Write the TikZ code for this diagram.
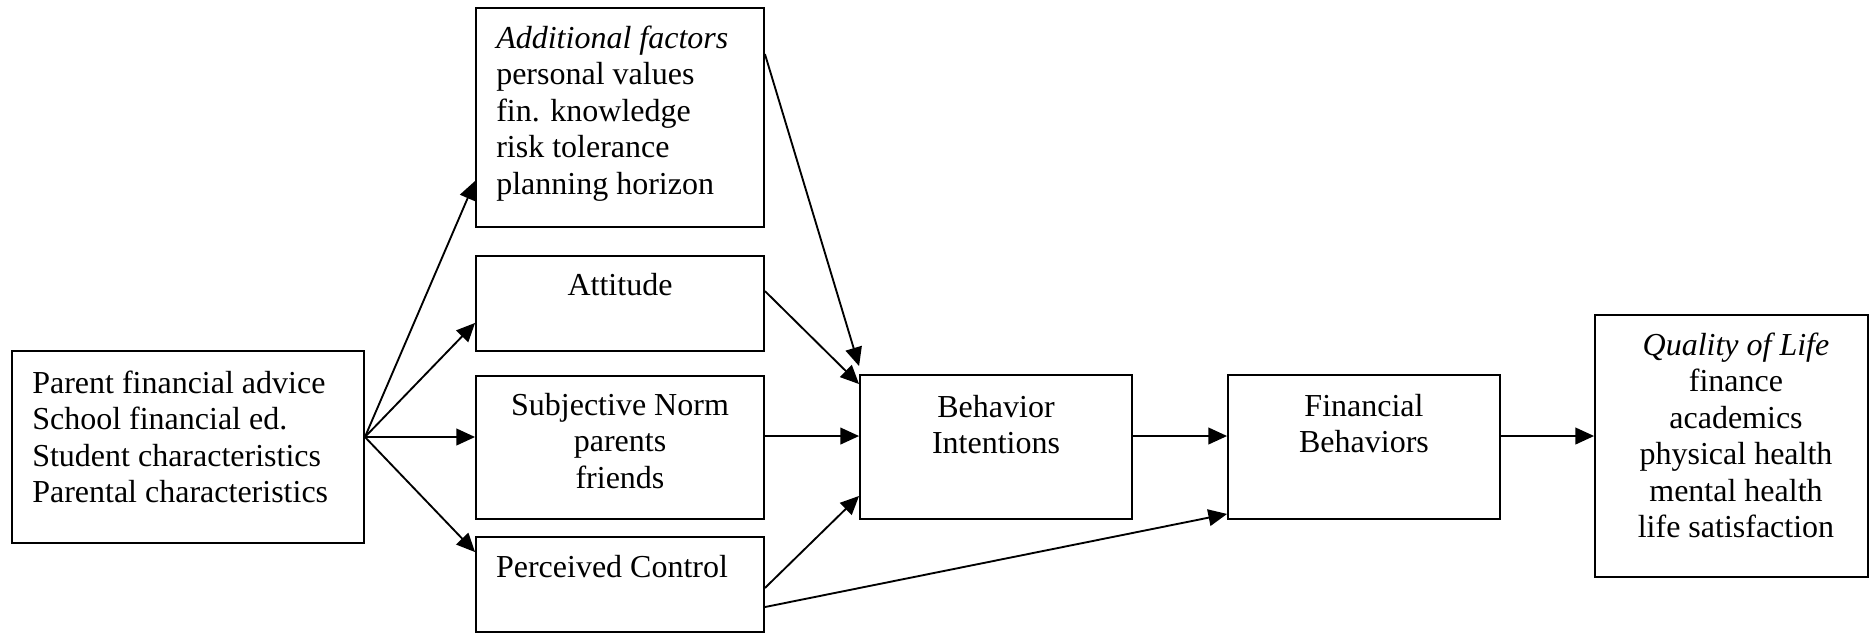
\documentclass[tikz,border=0pt]{standalone}
\usepackage{fontspec}
\setmainfont{Liberation Serif}
\usetikzlibrary{arrows.meta,calc}
\newcommand\boxlines[2]{\begin{tabular}[t]{@{}#1@{}}#2\end{tabular}}
\begin{document}
\begin{tikzpicture}[x=0.75pt,y=-0.75pt,
  every node/.style={font=\fontsize{24}{27.4}\selectfont},
  box/.style={draw,line width=1.4pt,inner sep=0pt},
  txt/.style={inner sep=0pt,anchor=base},
  txtl/.style={inner sep=0pt,anchor=base west},
  conn/.style={line width=1.4pt,-{Triangle[length=14pt,width=12.5pt]}}]
\useasboundingbox (0,0) rectangle (1870,633);
% boxes
\node[box,minimum width=264pt,minimum height=144pt] (A) at (188,447) {};
\node[box,minimum width=216pt,minimum height=164.25pt] (AF) at (620,117.5) {};
\node[box,minimum width=216pt,minimum height=71.25pt] (Att) at (620,303.5) {};
\node[box,minimum width=216pt,minimum height=107.25pt] (SN) at (620,447.5) {};
\node[box,minimum width=216pt,minimum height=71.25pt] (PC) at (620,584.5) {};
\node[box,minimum width=204pt,minimum height=108pt] (BI) at (996,447) {};
\node[box,minimum width=204pt,minimum height=108pt] (FB) at (1364,447) {};
\node[box,minimum width=204.75pt,minimum height=196.5pt] (QL) at (1731.5,446) {};
% texts
\node[txtl] (At) at (32,393) {\boxlines{l}{Parent financial advice\\School financial ed.\\Student characteristics\\Parental characteristics}};
\node[txtl] (AFt) at (496,48) {\boxlines{l}{\textit{Additional factors}\\personal values\\fin. knowledge\\risk tolerance\\planning horizon}};
\node[txt] (Attt) at (620,295) {Attitude};
\node[txt] (SNt) at (620,415) {\boxlines{c}{Subjective Norm\\parents\\friends}};
\node[txt] (PCt) at (612,577) {Perceived Control};
\node[txt] (BIt) at (996,417) {\boxlines{c}{Behavior\\Intentions}};
\node[txt] (FBt) at (1364,416) {\boxlines{c}{Financial\\Behaviors}};
\node[txt] (QLt) at (1736,355) {\boxlines{c}{\textit{Quality of Life}\\finance\\academics\\physical health\\mental health\\life satisfaction}};
% connector anchors
\coordinate (aout) at ([yshift=7.5pt]A.east);
\coordinate (snout) at ([yshift=8.6pt]SN.east);
\coordinate (biout) at ([yshift=8.25pt]BI.east);
\coordinate (fbout) at ([yshift=8.25pt]FB.east);
% connectors
\draw[conn] (aout) -- ([yshift=35.25pt]AF.south west);
\draw[conn] (aout) -- ([yshift=21.75pt]Att.south west);
\draw[conn] (aout) -- (aout -| SN.west);
\draw[conn] (aout) -- ([yshift=-12pt]PC.north west);
\draw[conn] ([yshift=-35.25pt]AF.north east) -- ([yshift=6pt]BI.north west);
\draw[conn] ([yshift=-27pt]Att.north east) -- ([yshift=-7.5pt]BI.north west);
\draw[conn] (snout) -- (snout -| BI.west);
\draw[conn] ([yshift=-2.6pt]PC.east) -- ([yshift=18pt]BI.south west);
\draw[conn] ([yshift=-16.9pt]PC.east) -- ([yshift=4.5pt]FB.south west);
\draw[conn] (biout) -- (biout -| FB.west);
\draw[conn] (fbout) -- (fbout -| QL.west);
\end{tikzpicture}
\end{document}
